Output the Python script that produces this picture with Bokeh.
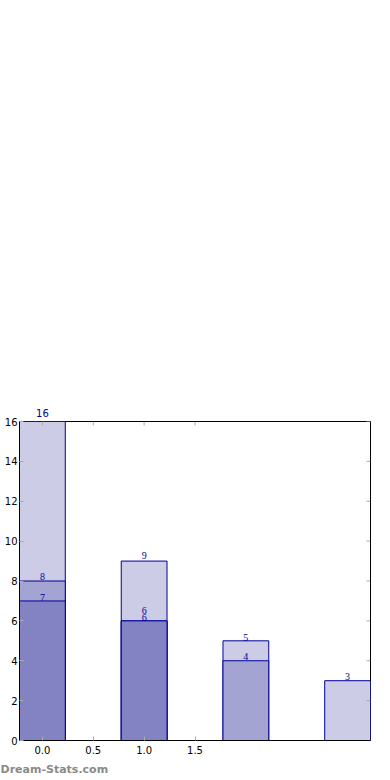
import math
from bokeh.plotting import figure
from bokeh.models import (ColumnDataSource, FixedTicker, LinearAxis, Range1d,
                          LabelSet, Title, PrintfTickFormatter)
from bokeh.embed import file_html
from bokeh.resources import INLINE

# ---- data ----
positions = [0, 1, 2, 3]
light_vals = [16, 9, 5, 3]
medium_vals = [8, 6, 4]
dark_vals = [7, 6]
x_ticks = [0.0, 0.5, 1.0, 1.5]
y_ticks = [0, 2, 4, 6, 8, 10, 12, 14, 16]
watermark = "Dream-Stats.com"

# ---- style ----
LIGHT = "#CCCCE6"
MEDIUM = "#A4A4D3"
DARK = "#8383C3"
EDGE = "#000099"
TICK_C = "#aaaaaa"
BAR_W = 0.45
FONT = "DejaVu Sans"
LABEL_PX = 10
DIGIT_W = 0.636 * LABEL_PX   # DejaVu Sans digit advance
W, H = 390, 780
BL, BR, BT, BB = 19, 20, 421, 40

xr = Range1d(-0.225, 3.225)
yr = Range1d(0, 16)
p = figure(width=W, height=H, output_backend="svg", toolbar_location=None,
           x_range=xr, y_range=yr,
           min_border_left=BL, min_border_right=BR, min_border_top=BT,
           min_border_bottom=BB, x_axis_type=None, y_axis_type=None)
p.outline_line_color = "black"
p.background_fill_color = "white"
p.border_fill_color = "white"
p.xgrid.visible = False
p.ygrid.visible = False

frame_w = W - BL - BR
px_per_x = frame_w / (xr.end - xr.start)
top_labels = []


def add_series(vals, color, dys):
    xs = positions[:len(vals)]
    src = ColumnDataSource(dict(x=xs, top=vals))
    p.vbar(x="x", top="top", bottom=0, width=BAR_W, source=src,
           fill_color=color, line_color=EDGE, line_width=1)
    # labels inside the frame via LabelSet, labels at the frame top via a Title
    keep = [i for i, v in enumerate(vals) if v < yr.end]
    lab_src = ColumnDataSource(dict(x=[xs[i] for i in keep],
                                    y=[vals[i] for i in keep],
                                    lab=[str(vals[i]) for i in keep],
                                    dy=[dys[i] for i in keep]))
    p.add_layout(LabelSet(x="x", y="y", text="lab", y_offset="dy", source=lab_src,
                          text_align="center", text_baseline="bottom",
                          text_font=FONT, text_font_size=f"{LABEL_PX}px",
                          text_color=EDGE))
    for i, v in enumerate(vals):
        if v >= yr.end:
            top_labels.append((xs[i], str(v)))


add_series(light_vals, LIGHT, [4, 2, 0, 1])
add_series(medium_vals, MEDIUM, [1, 7, 1])
add_series(dark_vals, DARK, [0, 0])

for xv, txt in top_labels:
    off = (xv - xr.start) * px_per_x - len(txt) * DIGIT_W / 2
    p.add_layout(Title(text=txt, align="left", offset=off, standoff=10,
                       text_font=FONT, text_font_size=f"{LABEL_PX}px",
                       text_font_style="normal", text_color=EDGE), "above")


def style_axis(ax):
    ax.axis_line_color = "black"
    ax.major_tick_in = 4
    ax.major_tick_out = 0
    ax.minor_tick_in = 0
    ax.minor_tick_out = 0
    ax.major_tick_line_color = TICK_C
    ax.major_label_text_font = FONT
    ax.major_label_text_font_size = "10px"
    ax.major_label_text_color = "black"
    ax.major_label_standoff = 4


xb = LinearAxis(ticker=FixedTicker(ticks=x_ticks),
                formatter=PrintfTickFormatter(format="%.1f"))
style_axis(xb)
xb.major_label_standoff = 5
p.add_layout(xb, "below")

yl = LinearAxis(ticker=FixedTicker(ticks=y_ticks))
style_axis(yl)
yl.major_label_standoff = 2
p.add_layout(yl, "left")

# mirrored inner ticks on the top and right edges
p.ray(x=x_ticks, y=[yr.end] * len(x_ticks), length=4, length_units="screen",
      angle=-math.pi / 2, line_color=TICK_C, line_width=1)
p.ray(x=[xr.end] * len(y_ticks), y=y_ticks, length=4, length_units="screen",
      angle=math.pi, line_color=TICK_C, line_width=1)

wm = Title(text=watermark, align="left", offset=-BL, standoff=9,
           text_font=FONT, text_font_size="11px", text_font_style="bold",
           text_color="#8a8a8a")
p.add_layout(wm, "below")

open("out.html", "w").write(file_html(p, INLINE))
